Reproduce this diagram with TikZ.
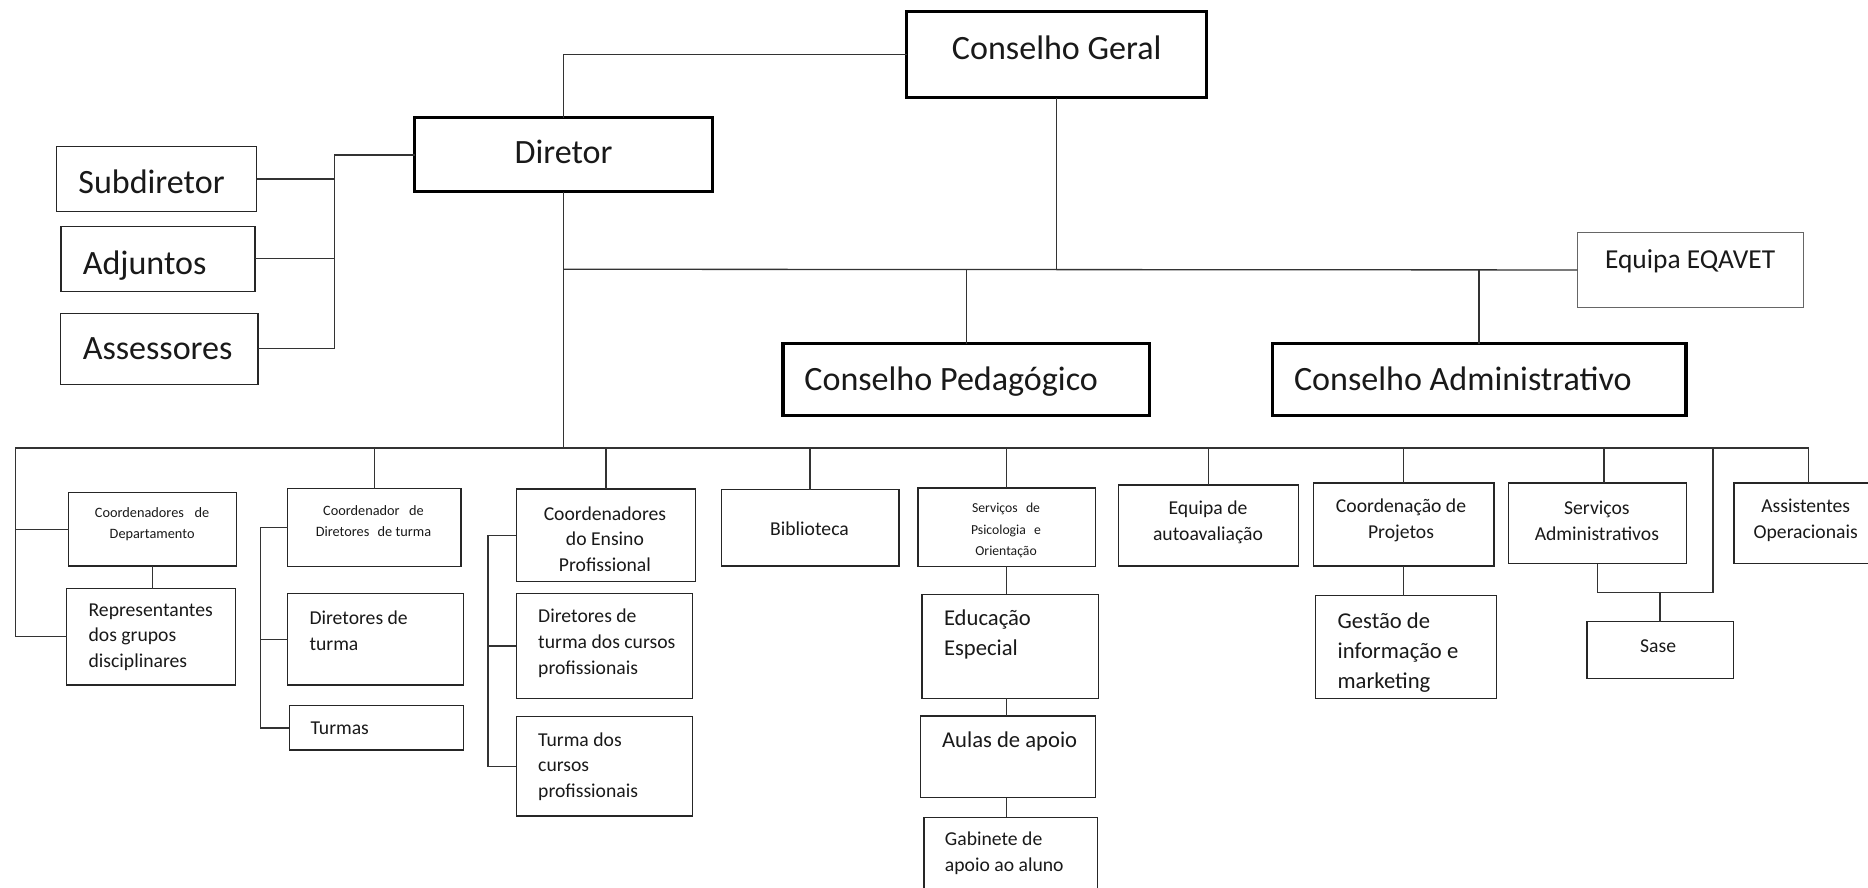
\documentclass[tikz,border=0pt]{standalone}
\usepackage{fontspec}
\setmainfont{Carlito}
\begin{document}
\begin{tikzpicture}[x=1pt,y=-1pt,
  box/.style={draw=black!85,line width=1.1pt,inner sep=0pt,outer sep=0pt},
  thickbox/.style={draw=black,line width=2.6pt,inner sep=0pt,outer sep=0pt},
  lightbox/.style={draw=black!60,line width=1pt,inner sep=0pt,outer sep=0pt},
  link/.style={draw=black!80,line width=1.1pt},
  bigtxt/.style={inner sep=0pt,text=black!90,font=\fontsize{28.6}{34}\selectfont},
  eqtxt/.style={inner sep=0pt,text=black!90,font=\fontsize{23}{28}\selectfont},
  midtxt/.style={inner sep=0pt,text=black!90,font=\fontsize{16.5}{21.5}\selectfont},
  largetxt/.style={inner sep=0pt,text=black!90,font=\fontsize{19}{25.3}\selectfont},
  tinytxt/.style={inner sep=0pt,text=black!90,font=\fontsize{12}{17.6}\selectfont},
  spotxt/.style={inner sep=0pt,text=black!90,font=\fontsize{11.5}{18}\selectfont}
]
\useasboundingbox (0,0) rectangle (1568,745);
\clip (0,0) rectangle (1568,745);

% ---------- top part ----------
\node[thickbox,minimum width=252pt,minimum height=72pt] (CG) at (887,46) {};
\node[bigtxt,anchor=base] (CGt) at (887,50) {Conselho Geral};

\node[thickbox,minimum width=250pt,minimum height=62pt] (DIR) at (473,130) {};
\node[bigtxt,anchor=base] (DIRt) at (473,137) {Diretor};

\node[box,minimum width=168pt,minimum height=54.5pt] (SUB) at (131.5,150.2) {};
\node[bigtxt,anchor=base west] (SUBt) at (65.6,162) {Subdiretor};
\node[box,minimum width=163pt,minimum height=54.5pt] (ADJ) at (132.6,217.2) {};
\node[bigtxt,anchor=base west] (ADJt) at (69.3,230) {Adjuntos};
\node[box,minimum width=165.5pt,minimum height=59.7pt] (ASS) at (133.7,292.8) {};
\node[bigtxt,anchor=base west] (ASSt) at (69.3,301.5) {Assessores};

\node[lightbox,minimum width=190pt,minimum height=63.3pt] (EQ) at (1419,226.6) {};
\node[eqtxt,anchor=base] (EQt) at (1418.7,225.7) {Equipa EQAVET};

\node[thickbox,minimum width=307.5pt,minimum height=60.4pt] (CP) at (811,318.8) {};
\node[bigtxt,anchor=base west] (CPt) at (675,328) {Conselho Pedagógico};
\node[thickbox,minimum width=347.4pt,minimum height=60.4pt] (CA) at (1241.5,318.8) {};
\node[bigtxt,anchor=base west] (CAt) at (1086,328) {Conselho Administrativo};

% ---------- bottom boxes ----------
\node[box,minimum width=141pt,minimum height=62pt] (CD) at (128,444.2) {};
\node[tinytxt,align=center] (CDt) at (127.7,440) {Coordenadores\hspace{9pt}de\\Departamento};
\node[box,minimum width=141.5pt,minimum height=81pt] (RG) at (126.8,534.5) {};
\node[midtxt,align=left,anchor=west] (RGt) at (74.2,534.9) {Representantes\\dos grupos\\disciplinares};

\node[box,minimum width=145.5pt,minimum height=65pt] (CDT) at (314.2,442.8) {};
\node[tinytxt,align=center] (CDTt) at (313.5,437.5) {Coordenador\hspace{8pt}de\\Diretores\hspace{7pt}de turma};
\node[box,minimum width=147.7pt,minimum height=77pt] (DT) at (315.4,536.5) {};
\node[midtxt,align=left,anchor=west] (DTt) at (259.6,529.3) {Diretores de\\turma};
\node[box,minimum width=146.2pt,minimum height=37.2pt] (TU) at (316.1,611) {};
\node[midtxt,anchor=west] (TUt) at (260.5,611.6) {Turmas};

\node[box,minimum width=150.7pt,minimum height=77.8pt] (CEP) at (508.7,449.4) {};
\node[midtxt,align=center] (CEPt) at (507.8,452.6) {Coordenadores\\do Ensino\\Profissional};
\node[box,minimum width=148.2pt,minimum height=88.5pt] (DTCP) at (507.4,542.3) {};
\node[midtxt,align=left,anchor=west] (DTCPt) at (451.6,540) {Diretores de\\turma dos cursos\\profissionais};
\node[box,minimum width=148.2pt,minimum height=83.8pt] (TCP) at (507.4,643.1) {};
\node[midtxt,align=left,anchor=west] (TCPt) at (451.6,643.3) {Turma dos\\cursos\\profissionais};

\node[box,minimum width=149pt,minimum height=64.2pt] (BIB) at (680,443.1) {};
\node[midtxt] (BIBt) at (679.5,444) {Biblioteca};

\node[box,minimum width=149pt,minimum height=65.7pt] (SPO) at (845,442.4) {};
\node[spotxt,align=center] (SPOt) at (844.5,445.5) {Serviços\hspace{7pt}de\\Psicologia\hspace{7pt}e\\Orientação};
\node[box,minimum width=148pt,minimum height=87.5pt] (EE) at (848,542.5) {};
\node[largetxt,align=left,anchor=west] (EEt) at (792.2,532.5) {Educação\\Especial};
\node[box,minimum width=147pt,minimum height=68.5pt] (AA) at (846,635.2) {};
\node[largetxt,anchor=west] (AAt) at (790.6,622) {Aulas de apoio};
\node[box,minimum width=146pt,minimum height=94pt] (GA) at (848.5,733) {};
\node[midtxt,align=left,anchor=west] (GAt) at (793,716) {Gabinete de\\apoio ao aluno};

\node[box,minimum width=151pt,minimum height=68.2pt] (EA) at (1014.5,441.1) {};
\node[midtxt,align=center] (EAt) at (1014,438.3) {Equipa de\\autoavaliação};

\node[box,minimum width=151.7pt,minimum height=69.7pt] (CPJ) at (1178.2,440.3) {};
\node[midtxt,align=center] (CPJt) at (1176,437) {Coordenação de\\Projetos};
\node[box,minimum width=151.5pt,minimum height=86.5pt] (GI) at (1180.2,543.2) {};
\node[largetxt,align=left,anchor=west] (GIt) at (1122.6,547.9) {Gestão de\\informação e\\marketing};

\node[box,minimum width=149.5pt,minimum height=67.5pt] (SA) at (1340.8,439.3) {};
\node[midtxt,align=center] (SAt) at (1340.4,437) {Serviços\\Administrativos};
\node[box,minimum width=123pt,minimum height=48pt] (SS) at (1393.5,545.8) {};
\node[midtxt] (SSt) at (1391.8,542.3) {Sase};

\node[box,minimum width=114.5pt,minimum height=67.5pt] (AO) at (1512.7,439.3) {};
\node[midtxt,align=center] (AOt) at (1515.7,437) {Assistentes\\Operacionais};

% ---------- helper coordinates ----------
\coordinate (busL) at (13,376);
\coordinate (busR) at (1518,376);
\coordinate (lbx) at (281,0);
\coordinate (hj) at (887,226);
\coordinate (bx1) at (218.5,0);
\coordinate (bx2) at (409.6,0);
\coordinate (sab) at (1346.5,376);
\coordinate (sac) at (1438,497.5);

% ---------- connectors: top ----------
\draw[link] (DIR.north) |- (CG.west);
\draw[link] (DIR.south) -- (DIR.south |- busL);
\draw[link] (DIR.west) -- (DIR.west -| lbx) -- (ASS.east -| lbx) -- (ASS.east);
\draw[link] (SUB.east) -- (SUB.east -| lbx);
\draw[link] (ADJ.east) -- (ADJ.east -| lbx);
\draw[link] (CG.south) -- (CG.south |- hj);
\draw[link] (DIR.south |- hj) -- (EQ.west);
\draw[link] (CP.north |- hj) -- (CP.north);
\draw[link] (CA.north |- hj) -- (CA.north);

% ---------- connectors: bus ----------
\draw[link] (busL) -- (busR) -- (busR |- AO.north);
\draw[link] (busL) |- (RG.west);
\draw[link] (CD.west) -- (CD.west -| busL);
\draw[link] (CD.south) -- (CD.south |- RG.north);

\draw[link] (CDT.north) -- (CDT.north |- busL);
\draw[link] (CDT.west) -| (bx1 |- TU.west) -- (TU.west);
\draw[link] (DT.west) -- (DT.west -| bx1);

\draw[link] (CEP.north) -- (CEP.north |- busL);
\draw[link] (CEP.west) -| (bx2 |- TCP.west) -- (TCP.west);
\draw[link] (DTCP.west) -- (DTCP.west -| bx2);

\draw[link] (BIB.north) -- (BIB.north |- busL);

\draw[link] (SPO.north) -- (SPO.north |- busL);
\draw[link] (SPO.south) -- (SPO.south |- EE.north);
\draw[link] (SPO.south |- EE.south) -- (SPO.south |- AA.north);
\draw[link] (SPO.south |- AA.south) -- (SPO.south |- GA.north);

\draw[link] (EA.north) -- (EA.north |- busL);

\draw[link] (CPJ.north) -- (CPJ.north |- busL);
\draw[link] (CPJ.south) -- (CPJ.south |- GI.north);

\draw[link] (sab) -- (sab |- SA.north);
\draw[link] (SA.south) |- (sac) -- (sac |- busL);
\draw[link] (SS.north) -- (SS.north |- sac);
\end{tikzpicture}
\end{document}
